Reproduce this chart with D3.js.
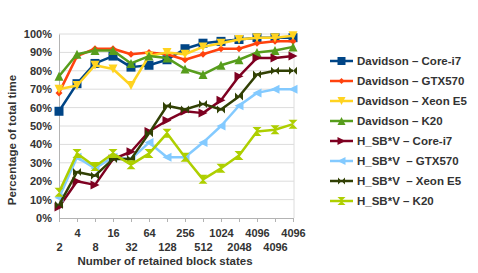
<!DOCTYPE html>
<html>
<head>
<meta charset="utf-8">
<script src="https://cdn.jsdelivr.net/npm/d3@7"></script>
<style>
  body { margin: 0; background: #fff; }
  text { font-family: "Liberation Sans", Arial, sans-serif; }
</style>
</head>
<body>
<svg id="chart" width="478" height="273"></svg>
<script>
// tick labels (the last three repeat in the original)
var blockStates = ["2", "4", "8", "16", "32", "64", "128", "256", "512", "1024", "2048", "4096", "4096", "4096"];
var yTicks = [0, 10, 20, 30, 40, 50, 60, 70, 80, 90, 100];

var seriesNames = [
    "Davidson – Core-i7",
    "Davidson – GTX570",
    "Davidson – Xeon E5",
    "Davidson – K20",
    "H_SB*V – Core-i7",
    "H_SB*V  – GTX570",
    "H_SB*V  – Xeon E5",
    "H_SB*V – K20"
];

var davidsonCorei7 = [58, 73, 84, 88, 82, 83, 86, 92, 95, 96, 97, 98, 98, 98];
var davidsonGTX570 = [68, 88, 92, 92, 89, 90, 89, 86, 89, 92, 92, 95, 96, 96];
var davidsonXeonE5 = [70, 72, 83, 81, 72, 88, 90, 89, 93, 95, 97, 98, 98, 99];
var davidsonK20 = [77, 89, 91, 91, 84, 88, 87, 81, 78, 83, 86, 90, 91, 93];
var hsbvCorei7 = [6, 20, 18, 32, 36, 47, 53, 58, 57, 64, 77, 87, 87, 88];
var hsbvGTX570 = [11, 33, 27, 33, 32, 41, 33, 33, 41, 50, 61, 68, 70, 70];
var hsbvXeonE5 = [7, 25, 23, 32, 32, 46, 61, 59, 62, 59, 66, 78, 80, 80];
var hsbvK20 = [14, 35, 28, 35, 29, 35, 46, 33, 21, 27, 34, 47, 48, 51];

var seriesValues = [davidsonCorei7, davidsonGTX570, davidsonXeonE5, davidsonK20,
    hsbvCorei7, hsbvGTX570, hsbvXeonE5, hsbvK20];
var colors = ["#004586", "#ff420e", "#ffd320", "#579d1c", "#7e0021", "#83caff", "#314004", "#aecf00"];
var markers = ["square", "diamond", "down", "up", "right", "left", "bowtie", "hourglass"];

var svg = d3.select("#chart");
var plotLeft = 59, plotRight = 293, plotTop = 34, plotBottom = 218;

var x = d3.scalePoint().domain(d3.range(blockStates.length)).range([plotLeft, plotRight]);
var y = d3.scaleLinear().domain([0, 100]).range([plotBottom, plotTop]);

// grid
svg.append("g").selectAll("line").data(yTicks.slice(1)).join("line")
    .attr("x1", plotLeft).attr("x2", plotRight + 1)
    .attr("y1", d => y(d)).attr("y2", d => y(d))
    .attr("stroke", "#dcdcdc").attr("stroke-width", 1);
svg.append("line")
    .attr("x1", plotRight + 1).attr("x2", plotRight + 1).attr("y1", plotTop).attr("y2", plotBottom)
    .attr("stroke", "#dcdcdc");

// y axis
var yAxis = svg.append("g").attr("transform", "translate(" + plotLeft + ",0)")
    .call(d3.axisLeft(y).tickValues(yTicks).tickFormat(d => d + "%").tickSize(0).tickPadding(7));
yAxis.select(".domain").attr("stroke", "#b3b3b3");
yAxis.selectAll("text").attr("font-size", 11).attr("font-weight", "bold").attr("fill", "#333")
    .attr("font-family", "Liberation Sans, Arial, sans-serif");

// x axis
var xAxis = svg.append("g").attr("transform", "translate(0," + plotBottom + ")")
    .call(d3.axisBottom(x).tickFormat(i => blockStates[i]).tickSize(4).tickSizeOuter(0).tickPadding(0));
xAxis.select(".domain").attr("stroke", "#b3b3b3");
xAxis.selectAll(".tick line").attr("stroke", "#b3b3b3");
xAxis.selectAll("text").attr("font-size", 11).attr("font-weight", "bold").attr("fill", "#333")
    .attr("font-family", "Liberation Sans, Arial, sans-serif")
    .attr("y", (d, i) => i % 2 ? 11 : 25);

// axis titles
svg.append("text").attr("x", 165).attr("y", 265).attr("text-anchor", "middle")
    .attr("font-size", 11.5).attr("font-weight", "bold").attr("fill", "#333")
    .text("Number of retained block states");
svg.append("text").attr("transform", "translate(16,140) rotate(-90)").attr("text-anchor", "middle")
    .attr("font-size", 11.5).attr("font-weight", "bold").attr("fill", "#333")
    .text("Percentage of total time");

function markerPath(kind, s) {
    var h = s / 2;
    switch (kind) {
        case "square": return "M" + (-h) + "," + (-h) + "h" + s + "v" + s + "h" + (-s) + "Z";
        case "diamond": return "M0," + (-h) + "L" + h + ",0L0," + h + "L" + (-h) + ",0Z";
        case "down": return "M" + (-h) + "," + (-h) + "L" + h + "," + (-h) + "L0," + h + "Z";
        case "up": return "M" + (-h) + "," + h + "L" + h + "," + h + "L0," + (-h) + "Z";
        case "right": return "M" + (-h) + "," + (-h) + "L" + h + ",0L" + (-h) + "," + h + "Z";
        case "left": return "M" + h + "," + (-h) + "L" + (-h) + ",0L" + h + "," + h + "Z";
        case "bowtie": return "M" + (-h) + "," + (-h) + "L" + h + "," + h + "L" + h + "," + (-h) + "L" + (-h) + "," + h + "Z";
        case "hourglass": return "M" + (-h) + "," + (-h) + "L" + h + "," + (-h) + "L" + (-h) + "," + h + "L" + h + "," + h + "Z";
    }
}
var markerSize = [9, 7, 9, 9, 9, 9, 8, 9];

var line = d3.line().x((d, i) => x(i)).y(d => y(d));

seriesValues.forEach(function (vals, k) {
    var g = svg.append("g");
    g.append("path").attr("d", line(vals)).attr("fill", "none")
        .attr("stroke", colors[k]).attr("stroke-width", 2.5).attr("stroke-linejoin", "round");
    g.selectAll("path.m").data(vals).join("path").attr("class", "m")
        .attr("d", markerPath(markers[k], markerSize[k]))
        .attr("transform", (d, i) => "translate(" + x(i) + "," + y(d) + ")")
        .attr("fill", colors[k]);
});

// legend
var legend = svg.append("g").selectAll("g").data(seriesNames).join("g")
    .attr("transform", (d, i) => "translate(330," + (61 + i * 20) + ")");
legend.append("line").attr("x1", 0).attr("x2", 23)
    .attr("stroke", (d, i) => colors[i]).attr("stroke-width", 2.5);
legend.append("path").attr("transform", "translate(11.5,0)")
    .attr("d", (d, i) => markerPath(markers[i], markerSize[i] - 1))
    .attr("fill", (d, i) => colors[i]);
legend.append("text").attr("x", 27).attr("dy", "0.35em")
    .attr("font-size", 11.5).attr("font-weight", "bold").attr("fill", "#333")
    .style("white-space", "pre")
    .text(d => d);
</script>
</body>
</html>
